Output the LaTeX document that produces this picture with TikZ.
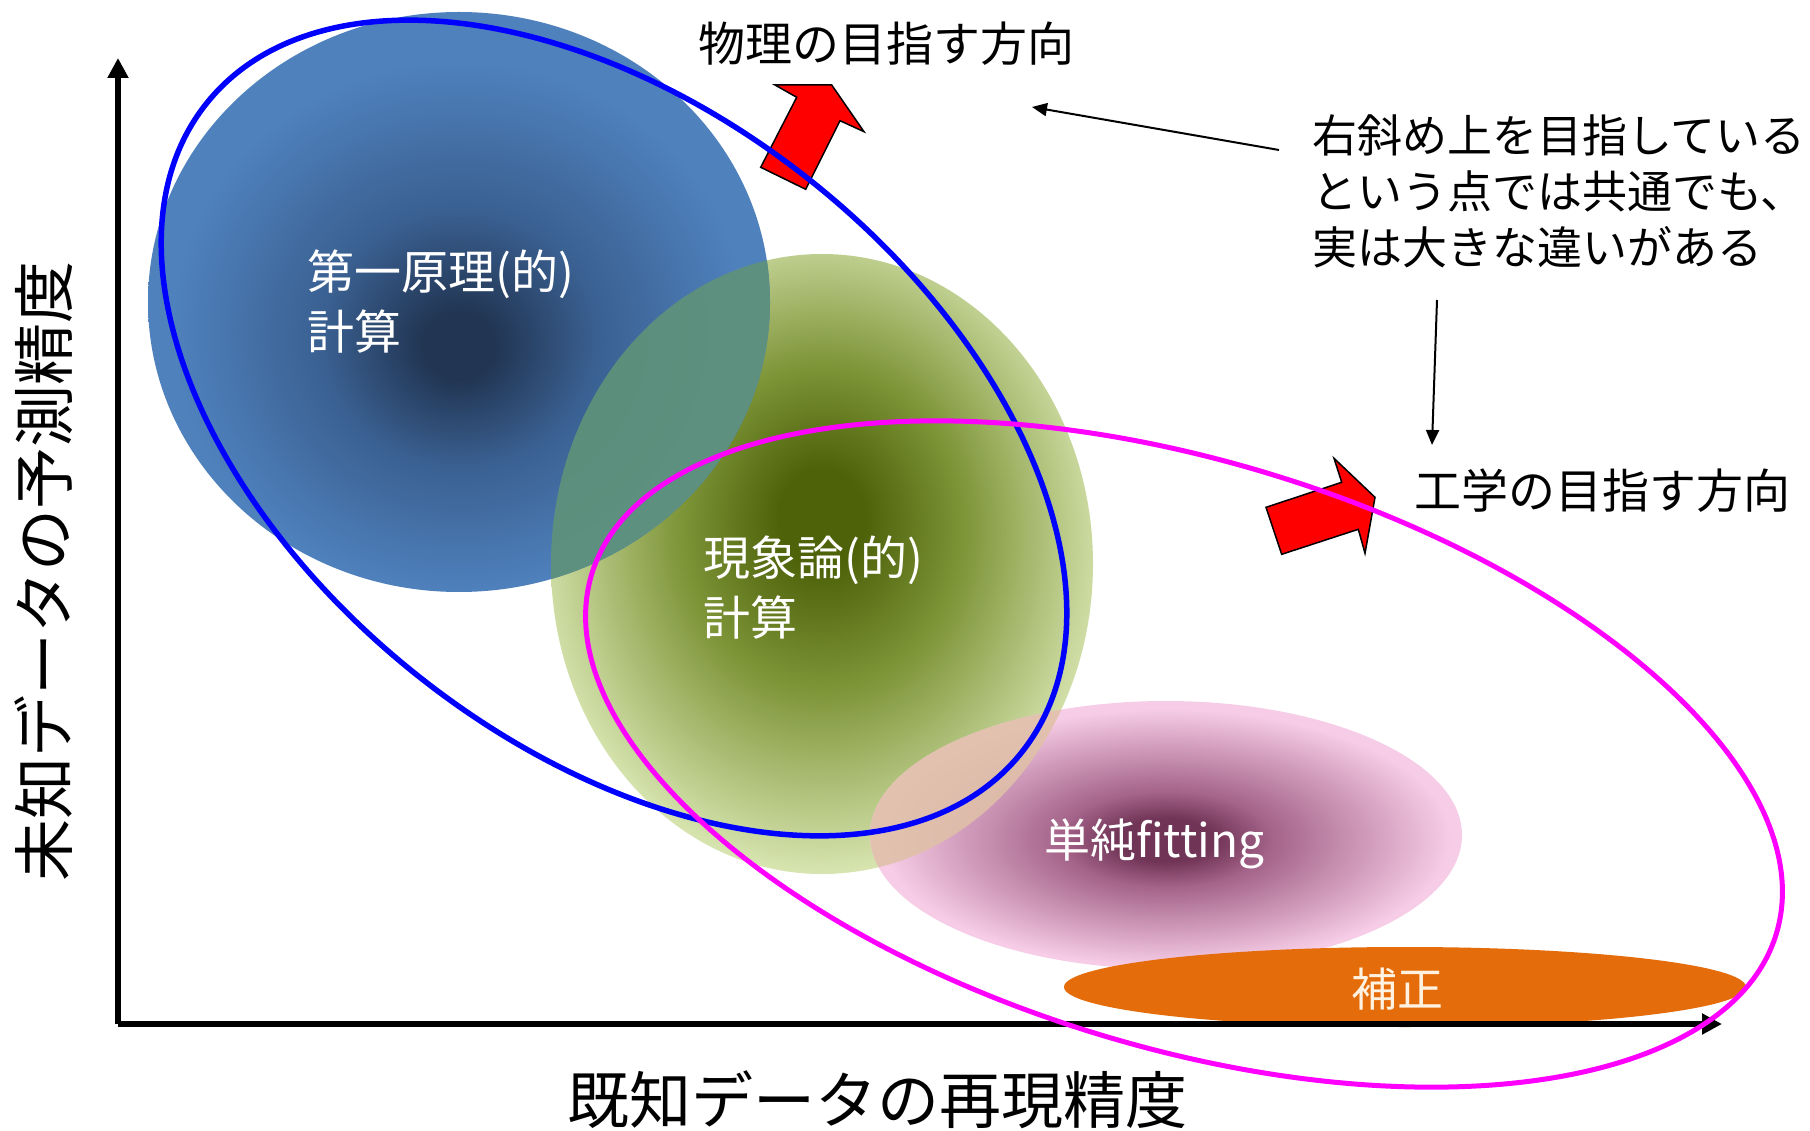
\documentclass[tikz,border=0pt]{standalone}
\usepackage{fontspec}
\setmainfont{Noto Sans CJK JP}
\usetikzlibrary{arrows.meta}
\definecolor{bluelight}{RGB}{79,129,189}
\definecolor{bluemid}{RGB}{58,96,145}
\definecolor{bluedark}{RGB}{34,54,84}
\definecolor{greenlight}{RGB}{217,230,178}
\definecolor{greenmid}{RGB}{125,148,55}
\definecolor{greendark}{RGB}{78,98,10}
\definecolor{pinklight}{RGB}{246,204,230}
\definecolor{pinkmid}{RGB}{165,100,138}
\definecolor{pinkdark}{RGB}{112,52,86}
\definecolor{orangefill}{RGB}{228,108,10}
\definecolor{tealmix}{RGB}{95,146,122}
\definecolor{tanmix}{RGB}{224,192,168}
\definecolor{outlineblue}{RGB}{0,0,255}
\definecolor{outlinemag}{RGB}{255,0,255}
\definecolor{cream}{RGB}{255,242,225}
\pgfdeclareradialshading{blueblob}{\pgfpoint{0bp}{-4bp}}{color(0bp)=(bluedark); color(3bp)=(bluedark); color(11bp)=(bluemid); color(23bp)=(bluelight); color(50bp)=(bluelight)}
\pgfdeclareradialshading{greenblob}{\pgfpoint{0bp}{4bp}}{color(0bp)=(greendark); color(4bp)=(greendark); color(13bp)=(greenmid); color(27bp)=(greenlight); color(50bp)=(greenlight)}
\pgfdeclareradialshading{pinkblob}{\pgfpoint{0bp}{-1bp}}{color(0bp)=(pinkdark); color(4bp)=(pinkdark); color(9bp)=(pinkmid); color(24bp)=(pinklight); color(50bp)=(pinklight)}
\tikzset{
  axisline/.style={line width=6pt, -{Triangle[length=20pt,width=20pt]}},
  thinarrow/.style={line width=2pt, -{Triangle[length=15pt,width=13pt]}},
  redarrow/.style={fill=red, draw=black, line width=1.5pt, line join=miter},
  blobtext/.style={text=white, font=\fontsize{47}{58}\selectfont, inner sep=0pt, anchor=west},
  lbltext/.style={text=black, font=\fontsize{47}{56}\selectfont, inner sep=0pt},
  notetext/.style={text=black, font=\fontsize{45}{56}\selectfont, inner sep=0pt, align=left, anchor=west},
  axistext/.style={text=black, font=\fontsize{62}{70}\selectfont, inner sep=0pt},
}
\begin{document}
\begin{tikzpicture}[x=1pt, y=-1pt]
\useasboundingbox (0,0) rectangle (1810,1131);
\fill[white] (0,0) rectangle (1810,1131);
% blobs
\shade[shading=greenblob] (822,564) ellipse [x radius=271, y radius=310];
\shade[shading=blueblob] (459,302) ellipse [x radius=311, y radius=290];
\begin{scope}
  \clip (822,564) ellipse [x radius=271, y radius=310];
  \fill[tealmix, opacity=0.92] (459,302) ellipse [x radius=311, y radius=290];
\end{scope}
\shade[shading=pinkblob] (1166,835) ellipse [x radius=296, y radius=134];
\begin{scope}
  \clip (822,564) ellipse [x radius=271, y radius=310];
  \fill[tanmix, opacity=0.88] (1166,835) ellipse [x radius=296, y radius=134];
\end{scope}
\fill[orangefill] (1405,987) ellipse [x radius=341, y radius=40];
% axes
\coordinate (origin) at (118,1024);
\coordinate (ytip) at (118,58);
\coordinate (xtip) at (1722,1024);
\draw[axisline] (origin) -- (ytip);
\draw[axisline] (origin) -- (xtip);
% red arrows
\draw[redarrow] (760.7,167.3) -- (796.7,97.3) -- (775,85) -- (831.7,85) -- (864,131.7) -- (840,120.7) -- (805.7,189.3) -- cycle;
\draw[redarrow] (1266,507.3) -- (1341.7,482.3) -- (1334,458.3) -- (1375,497.3) -- (1365,553.3) -- (1358.3,529.3) -- (1281.7,554.3) -- cycle;
% outlines
\draw[outlineblue, line width=5.5pt, rotate around={-38.5:(614,428)}] (614,428) ellipse [x radius=521, y radius=316];
\draw[outlinemag, line width=5pt, rotate around={-16.9:(1184,754)}] (1184,754) ellipse [x radius=619, y radius=293];
% texts
\node[blobtext] (fp1) at (307,274) {第一原理(的)};
\node[blobtext] (fp2) at (307,332) {計算};
\node[blobtext] (ph1) at (703,560) {現象論(的)};
\node[blobtext] (ph2) at (703,618) {計算};
\node[text=white, font=\fontsize{46}{56}\selectfont, inner sep=0pt] (fit) at (1154,844) {単純fitting};
\node[text=cream, font=\fontsize{46}{56}\selectfont, inner sep=0pt] (hosei) at (1397,989) {補正};
\node[lbltext] (phys) at (886,44) {物理の目指す方向};
\node[lbltext, anchor=west] (eng) at (1414,491) {工学の目指す方向};
\node[notetext] (note) at (1312,191) {右斜め上を目指している\\という点では共通でも、\\実は大きな違いがある};
\node[axistext, rotate=90] (ylab) at (44,571) {未知データの予測精度};
\node[axistext] (xlab) at (877,1100) {既知データの再現精度};
% thin arrows
\coordinate (n1s) at (1279,150);
\coordinate (n1e) at (1032,107);
\coordinate (n2s) at (1437,300);
\coordinate (n2e) at (1432,445);
\draw[thinarrow] (n1s) -- (n1e);
\draw[thinarrow] (n2s) -- (n2e);
\end{tikzpicture}
\end{document}
